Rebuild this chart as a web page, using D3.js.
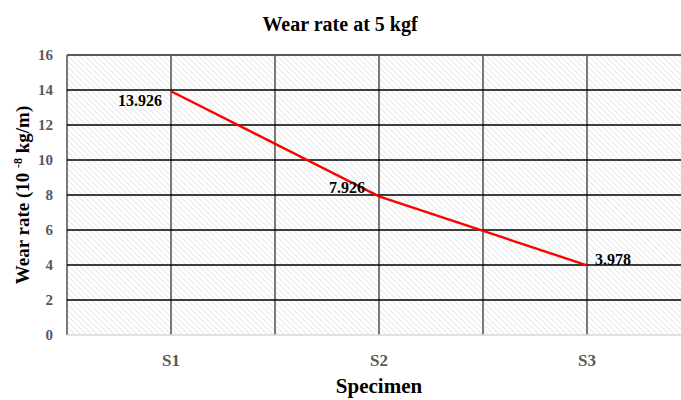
<!DOCTYPE html>
<html><head><meta charset="utf-8">
<script src="https://cdn.jsdelivr.net/npm/d3@7"></script>
<style>html,body{margin:0;padding:0;background:#fff;overflow:hidden}</style>
</head><body>
<svg id="c" width="681" height="400"></svg>
<script>
const categories = ["S1", "S2", "S3"];
const values = [13.926, 7.926, 3.978];
const labels = ["13.926", "7.926", "3.978"];
const yTicks = [0, 2, 4, 6, 8, 10, 12, 14, 16];

const svg = d3.select("#c");
const font = "'Liberation Serif','Times New Roman',serif";
const L = 67, R = 691, T = 55, B = 335;

const defs = svg.append("defs");
const pat = defs.append("pattern").attr("id", "hatch").attr("patternUnits", "userSpaceOnUse")
  .attr("width", 4).attr("height", 4).attr("patternTransform", "rotate(-45)");
pat.append("rect").attr("width", 4).attr("height", 4).attr("fill", "#fff");
pat.append("line").attr("x1", 0).attr("y1", 0).attr("x2", 0).attr("y2", 4)
  .attr("stroke", "#d9d9d9").attr("stroke-width", 1.2);

const x = d3.scaleBand().domain(categories).range([L, R]);
const y = d3.scaleLinear().domain([0, 16]).range([B, T]);

svg.append("rect").attr("x", L).attr("y", T).attr("width", R - L).attr("height", B - T)
  .attr("fill", "url(#hatch)");

// vertical gridlines: band edges and centers
const vx = [];
categories.forEach(c => { vx.push(x(c)); vx.push(x(c) + x.bandwidth() / 2); });
vx.push(R);
svg.append("g").selectAll("line").data(vx).join("line")
  .attr("x1", d => d).attr("x2", d => d).attr("y1", T).attr("y2", B)
  .attr("stroke", "#595959").attr("stroke-width", 1.6);

// horizontal gridlines
svg.append("g").selectAll("line").data(yTicks.filter(d => d > 0)).join("line")
  .attr("x1", L).attr("x2", R).attr("y1", d => y(d)).attr("y2", d => y(d))
  .attr("stroke", d => d === 16 ? "#595959" : "#000").attr("stroke-width", d => d === 16 ? 2.2 : 1.4);
// bottom axis line
svg.append("line").attr("x1", L).attr("x2", R).attr("y1", B).attr("y2", B)
  .attr("stroke", "#d9d9d9").attr("stroke-width", 1.4);

// y tick labels
svg.append("g").selectAll("text").data(yTicks).join("text")
  .attr("x", 53).attr("y", d => y(d)).attr("dy", "0.35em")
  .attr("text-anchor", "end").attr("font-family", font).attr("font-weight", "bold")
  .attr("font-size", 15).attr("fill", "#595959").text(d => d);

// x tick labels
svg.append("g").selectAll("text").data(categories).join("text")
  .attr("x", d => x(d) + x.bandwidth() / 2).attr("y", 366)
  .attr("text-anchor", "middle").attr("font-family", font).attr("font-weight", "bold")
  .attr("font-size", 17).attr("fill", "#595959").text(d => d);

// line
const pts = categories.map((c, i) => [x(c) + x.bandwidth() / 2, y(values[i])]);
svg.append("path").attr("d", d3.line()(pts)).attr("fill", "none")
  .attr("stroke", "#ff0000").attr("stroke-width", 2.4);

// data labels
const offs = [[-9, 15, "end"], [-14, -3, "end"], [8, 0, "start"]];
svg.append("g").selectAll("text").data(pts).join("text")
  .attr("x", (d, i) => d[0] + offs[i][0]).attr("y", (d, i) => d[1] + offs[i][1])
  .attr("text-anchor", (d, i) => offs[i][2]).attr("font-family", font).attr("font-weight", "bold")
  .attr("font-size", 16).attr("fill", "#000").text((d, i) => labels[i]);

// title
svg.append("text").attr("x", 340).attr("y", 31).attr("text-anchor", "middle")
  .attr("font-family", font).attr("font-weight", "bold").attr("font-size", 20).text("Wear rate at 5 kgf");
// x axis title
svg.append("text").attr("x", (L + R) / 2).attr("y", 393).attr("text-anchor", "middle")
  .attr("font-family", font).attr("font-weight", "bold").attr("font-size", 21).text("Specimen");
// y axis title
const yt = svg.append("text").attr("transform", `translate(29,${(T + B) / 2}) rotate(-90)`)
  .attr("text-anchor", "middle").attr("font-family", font).attr("font-weight", "bold").attr("font-size", 19);
yt.append("tspan").text("Wear rate (10 ");
yt.append("tspan").attr("font-size", 12).attr("dy", -7).text("-8");
yt.append("tspan").attr("dy", 7).text(" kg/m)");
</script>
</body></html>
